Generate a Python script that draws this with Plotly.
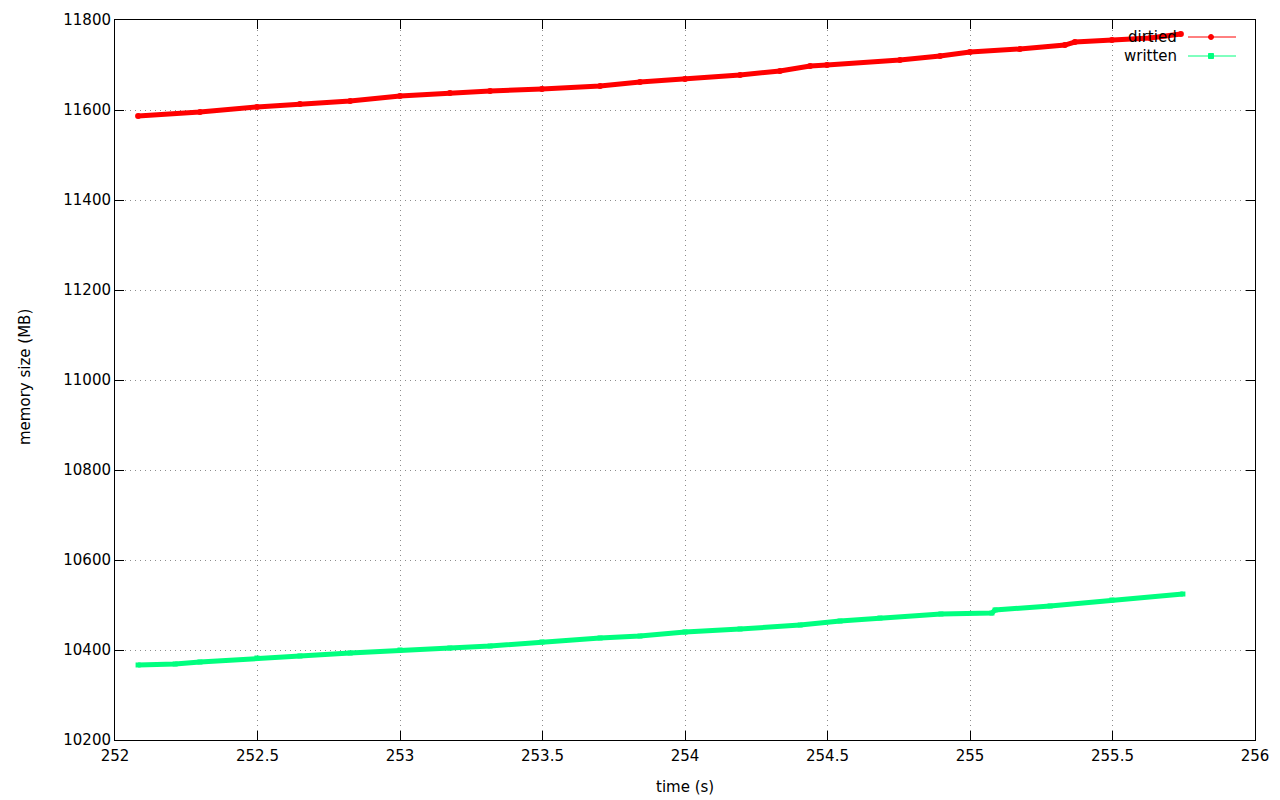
import plotly.graph_objects as go

# ---- data ----
dirtied_t = [252.081, 252.298, 252.498, 252.649, 252.825, 253.000, 253.175, 253.316,
             253.498, 253.702, 253.842, 254.000, 254.193, 254.333, 254.439, 254.498,
             254.754, 254.895, 255.000, 255.175, 255.333, 255.368, 255.498, 255.632,
             255.740]
dirtied_mb = [11586.7, 11595.6, 11606.7, 11613.3, 11620.0, 11631.1, 11637.8, 11642.2,
              11646.7, 11653.3, 11662.2, 11668.9, 11677.8, 11686.7, 11697.8, 11700.0,
              11711.1, 11720.0, 11728.9, 11735.6, 11744.4, 11751.1, 11755.6, 11760.0,
              11768.9]

written_t = [252.081, 252.211, 252.298, 252.498, 252.649, 252.825, 253.000, 253.175,
             253.316, 253.498, 253.702, 253.842, 254.000, 254.193, 254.404, 254.544,
             254.684, 254.898, 255.077, 255.088, 255.281, 255.498, 255.747]
written_mb = [10366.7, 10368.9, 10373.3, 10382.2, 10386.7, 10393.3, 10400.0, 10404.4,
              10408.9, 10417.8, 10426.7, 10431.1, 10440.0, 10446.7, 10455.6, 10464.4,
              10471.1, 10480.0, 10482.2, 10488.9, 10497.8, 10511.1, 10524.4]

x_ticks = [252, 252.5, 253, 253.5, 254, 254.5, 255, 255.5, 256]
x_tick_labels = ["252", "252.5", "253", "253.5", "254", "254.5", "255", "255.5", "256"]
y_ticks = [10200, 10400, 10600, 10800, 11000, 11200, 11400, 11600, 11800]
y_tick_labels = [str(v) for v in y_ticks]

RED = "#ff0000"
GREEN = "#00ff7f"
FONT = "DejaVu Sans"

fig = go.Figure()
fig.add_trace(go.Scatter(x=dirtied_t, y=dirtied_mb, mode="lines+markers", name="dirtied",
                         line=dict(color=RED, width=5),
                         marker=dict(symbol="circle", size=6, color=RED)))
fig.add_trace(go.Scatter(x=written_t, y=written_mb, mode="lines+markers", name="written",
                         line=dict(color=GREEN, width=5),
                         marker=dict(symbol="square", size=5, color=GREEN)))

# page body has an 8px margin: the figure spans 8..1280 x 8..800 on screen,
# so the plot area sits at 115..1255 x 20..740
OFF = 8
W, H = 1280 - OFF, 800 - OFF
L, R, T, B = 115 - OFF, 25, 20 - OFF, 60
pw, ph = W - L - R, H - T - B

def px(xp):
    return (xp - 115) / pw

def py(yp):
    return (740 - yp) / ph

title_font = dict(family=FONT, size=15, color="black")

# legend (gnuplot style: text then sample)
legend_items = [("dirtied", RED, "circle", 37), ("written", GREEN, "square", 56)]
shapes = []
annotations = []
for name, col, sym, yy in legend_items:
    annotations.append(dict(x=px(1179), y=py(yy), xref="paper", yref="paper",
                            text=name, showarrow=False, xanchor="right", yanchor="middle",
                            font=title_font))
    shapes.append(dict(type="line", xref="paper", yref="paper",
                       x0=px(1188), x1=px(1236), y0=py(yy), y1=py(yy),
                       line=dict(color=col, width=1)))
    shapes.append(dict(type="circle" if sym == "circle" else "rect",
                       xref="paper", yref="paper", xsizemode="pixel", ysizemode="pixel",
                       xanchor=px(1211), yanchor=py(yy),
                       x0=-2.5, x1=2.5, y0=-2.5, y1=2.5,
                       fillcolor=col, line=dict(color=col, width=1)))

# axis titles
annotations.append(dict(x=px(685), y=py(787), xref="paper", yref="paper", text="time (s)",
                        showarrow=False, xanchor="center", yanchor="middle", font=title_font))
annotations.append(dict(x=px(25), y=py(377), xref="paper", yref="paper", text="memory size (MB)",
                        showarrow=False, xanchor="center", yanchor="middle", textangle=-90,
                        font=title_font))

axis_common = dict(showline=True, linecolor="black", linewidth=1, mirror="allticks",
                   ticks="inside", ticklen=9, tickcolor="black", tickwidth=1,
                   showgrid=True, gridcolor="#8c8c8c", griddash="1px,4px", gridwidth=1,
                   zeroline=False, automargin=False,
                   tickfont=dict(family=FONT, size=15, color="black"))

fig.update_layout(
    width=W, height=H,
    margin=dict(l=L, r=R, t=T, b=B, autoexpand=False),
    paper_bgcolor="white", plot_bgcolor="white",
    showlegend=False,
    shapes=shapes, annotations=annotations,
    xaxis=dict(range=[252, 256], tickvals=x_ticks, ticktext=x_tick_labels,
               ticklabelstandoff=2, **axis_common),
    yaxis=dict(range=[10200, 11800], tickvals=y_ticks, ticktext=y_tick_labels,
               **axis_common),
)

fig.write_html("out.html")
